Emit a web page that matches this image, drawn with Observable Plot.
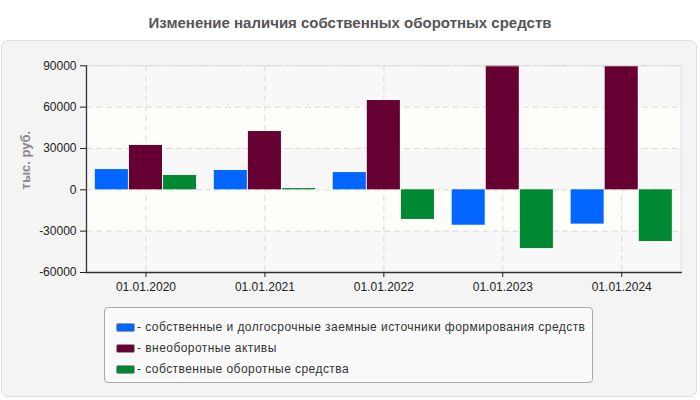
<!DOCTYPE html>
<html>
<head>
<meta charset="utf-8">
<script src="https://cdn.jsdelivr.net/npm/d3@7"></script>
<script src="https://cdn.jsdelivr.net/npm/@observablehq/plot@0.6"></script>
<style>
  html, body { margin: 0; padding: 0; background: #ffffff; }
  body { width: 700px; height: 400px; position: relative; overflow: hidden; font-family: "Liberation Sans", Arial, sans-serif; }
  #title { position: absolute; left: 0; top: 14px; width: 700px; text-align: center; font-size: 15px; font-weight: bold; color: #555; }
  #panel { position: absolute; left: 1px; top: 40px; width: 694px; height: 355px; background: #f4f4f4; border: 1px solid #dedede; border-radius: 7px; }
  #chart { position: absolute; left: 0; top: 40px; }
  #legend { position: absolute; left: 104px; top: 307px; width: 487px; height: 74px; background: #fafafa; border: 1px solid #aaa; border-radius: 4px; }
  .item { position: absolute; left: 11px; height: 14px; font-size: 12px; letter-spacing: 0.45px; color: #333; line-height: 14px; white-space: nowrap; }
  .sw { display: inline-block; width: 17px; height: 7px; border: 1px solid #999; border-radius: 2px; vertical-align: -1px; margin-right: 2px; }
</style>
</head>
<body>
<div id="title">Изменение наличия собственных оборотных средств</div>
<div id="panel"></div>
<div id="chart"></div>
<div id="legend"></div>
<script>
const dates = ["01.01.2020", "01.01.2021", "01.01.2022", "01.01.2023", "01.01.2024"];
const seriesNames = [
  "собственные и долгосрочные заемные источники формирования средств",
  "внеоборотные активы",
  "собственные оборотные средства"
];
const ownLongTerm = [14700, 14000, 12500, -25700, -24900];
const nonCurrent = [32200, 42300, 64800, 90000, 89500];
const ownWorking = [10400, 900, -21500, -42600, -37500];
const colors = ["#0066ff", "#660033", "#008833"];
const yTicks = [-60000, -30000, 0, 30000, 60000, 90000];

const seriesValues = [ownLongTerm, nonCurrent, ownWorking];
const rows = [];
dates.forEach((d, i) => seriesNames.forEach((s, j) => rows.push({date: d, series: s, value: seriesValues[j][i]})));
const plainBands = yTicks.slice(0, -1).map((t, i) => ({y1: t, y2: yTicks[i + 1], plain: i % 2 === 1})).filter(d => d.plain);

const legend = document.getElementById("legend");
seriesNames.forEach((s, i) => {
  const div = document.createElement("div");
  div.className = "item";
  div.style.top = (12 + i * 21) + "px";
  const sw = document.createElement("span");
  sw.className = "sw";
  sw.style.background = colors[i];
  div.appendChild(sw);
  div.appendChild(document.createTextNode("- " + s));
  legend.appendChild(div);
});

const svg = Plot.plot({
  width: 700,
  height: 262,
  marginLeft: 86,
  marginRight: 19.3,
  marginTop: 25.3,
  marginBottom: 30,
  style: {fontFamily: "'Liberation Sans', Arial, sans-serif", fontSize: "12px", color: "#222", background: "transparent", overflow: "visible"},
  fx: {domain: dates, padding: 0, label: null, round: false},
  x: {domain: seriesNames, paddingInner: 0.03, paddingOuter: 0.26, axis: null, round: false},
  y: {domain: [-60000, 90000], label: null},
  color: {domain: seriesNames, range: colors},
  marks: [
    Plot.frame({fill: "url(#hatch)", stroke: null, facet: "super"}),
    Plot.rectY(plainBands, {y1: "y1", y2: "y2", fill: "#fdfdf9"}),
    Plot.gridY(yTicks, {stroke: "#d9d9d9", strokeOpacity: 1, strokeDasharray: "6,4"}),
    Plot.gridFx({stroke: "#d9d9d9", strokeOpacity: 1, strokeDasharray: "6,4"}),
    Plot.barY(rows, {fx: "date", x: "series", y: "value", fill: "series"}),
    Plot.frame({anchor: "top", stroke: "#dddddd", facet: "super"}),
    Plot.frame({anchor: "right", stroke: "#dddddd", facet: "super"}),
    Plot.frame({anchor: "bottom", stroke: "#333", strokeWidth: 1.3, facet: "super"}),
    Plot.frame({anchor: "left", stroke: "#333", strokeWidth: 1.3, facet: "super"}),
    Plot.axisY({ticks: yTicks, tickSize: 6, tickPadding: 4, tickFormat: d => String(d), color: "#222", label: null}),
    Plot.axisFx({anchor: "bottom", tickSize: 5, tickPadding: 5, label: null, color: "#222"}),
    Plot.text(["тыс. руб."], {text: d => d, frameAnchor: "left", textAnchor: "middle", dx: -61, dy: -9, rotate: -90, fontWeight: "bold", fill: "#888", fontSize: 13, facet: "super"})
  ]
});

const ns = "http://www.w3.org/2000/svg";
const defs = document.createElementNS(ns, "defs");
defs.innerHTML = '<pattern id="hatch" patternUnits="userSpaceOnUse" width="4" height="4">' +
  '<rect width="4" height="4" fill="#fbfbfb"/>' +
  '<path d="M-1,1 l2,-2 M0,4 l4,-4 M3,5 l2,-2" stroke="#eeeeee" stroke-width="1"/></pattern>';
svg.insertBefore(defs, svg.firstChild);
document.getElementById("chart").appendChild(svg);
</script>
</body>
</html>
